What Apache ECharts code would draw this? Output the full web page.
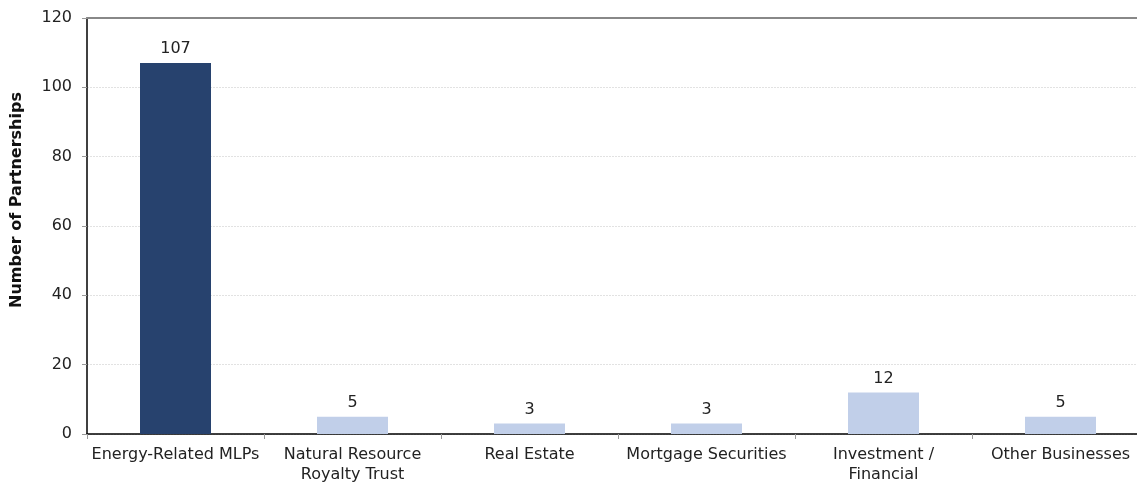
<!DOCTYPE html>
<html>
<head>
<meta charset="utf-8">
<script src="https://cdn.jsdelivr.net/npm/echarts@6/dist/echarts.min.js"></script>
<style>
  html, body { margin: 0; padding: 0; background: #fff; overflow: hidden; }
  #chart { width: 1149px; height: 485px; }
</style>
</head>
<body>
<div id="chart"></div>
<script>
// Partnership counts by business type
const categories = [
  'Energy-Related MLPs',
  'Natural Resource\nRoyalty Trust',
  'Real Estate',
  'Mortgage Securities',
  'Investment /\nFinancial',
  'Other Businesses'
];
const counts = [107, 5, 3, 3, 12, 5];
const yTicks = { min: 0, max: 120, interval: 20 };

const DARK = '#27426e';
const LIGHT = '#c1cfe9';
const FONT = 'DejaVu Sans, Verdana, sans-serif';

const chart = echarts.init(document.getElementById('chart'));
chart.setOption({
  animation: false,
  textStyle: { fontFamily: FONT },
  grid: { left: 87, right: 0, top: 18, bottom: 51, containLabel: false },
  xAxis: [{
    type: 'category',
    data: categories,
    axisLine: { lineStyle: { color: '#000', width: 1.5 } },
    axisTick: { show: true, length: 5, lineStyle: { color: '#999' } },
    axisLabel: { color: '#222', fontSize: 16, fontFamily: FONT, margin: 11, lineHeight: 20, interval: 0 }
  }, {
    type: 'category',
    position: 'top',
    data: categories,
    axisLine: { lineStyle: { color: '#888', width: 2 } },
    axisTick: { show: false },
    axisLabel: { show: false }
  }],
  yAxis: {
    type: 'value',
    min: yTicks.min, max: yTicks.max, interval: yTicks.interval,
    name: 'Number of Partnerships',
    nameLocation: 'middle',
    nameGap: 62,
    nameTextStyle: { color: '#111', fontSize: 16, fontWeight: 'bold', fontFamily: FONT, padding: [0, 0, 0, 52] },
    axisLine: { show: true, lineStyle: { color: '#000', width: 1.5 } },
    axisTick: { show: true, length: 5, lineStyle: { color: '#999' } },
    axisLabel: { color: '#222', fontSize: 16, fontFamily: FONT, margin: 15 },
    splitLine: { lineStyle: { color: '#e2e2e2', type: [2, 1] } }
  },
  series: [{
    type: 'bar',
    data: counts.map((v, i) => ({ value: v, itemStyle: { color: i === 0 ? DARK : LIGHT } })),
    barWidth: 71,
    label: { show: true, position: 'top', distance: 6, color: '#222', fontSize: 16, fontFamily: FONT }
  }]
});
</script>
</body>
</html>
